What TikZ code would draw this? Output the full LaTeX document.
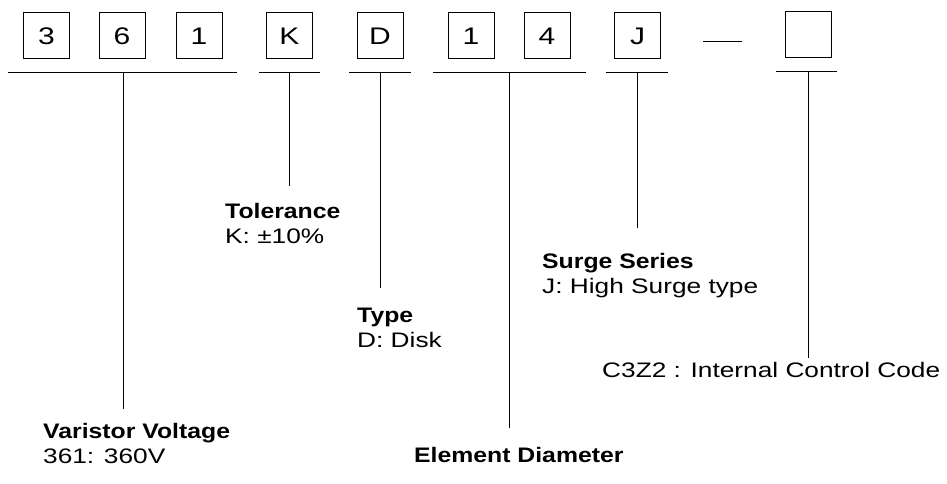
\documentclass[tikz,border=0pt]{standalone}
\usepackage{fontspec}
\setmainfont[FakeStretch=1.25]{Liberation Sans}
\newfontfamily\boldlbl[FakeStretch=1.18]{Liberation Sans}
\begin{document}
\begin{tikzpicture}[x=1pt,y=-1pt,
  codebox/.style={draw,line width=1pt,minimum width=46pt,minimum height=46pt,inner sep=0pt,font=\fontsize{24}{24}\selectfont},
  rule/.style={line width=1pt},
  lbl/.style={anchor=base west,inner sep=0pt,font=\fontsize{21}{25}\selectfont},
  lblb/.style={lbl,font=\fontsize{21}{25}\boldlbl\bfseries}]
\useasboundingbox (0,0) rectangle (947,484);
% code boxes
\node[codebox] (b3) at (46.5,36) {3};
\node[codebox] (b6) at (122,36) {6};
\node[codebox] (b1) at (199,36) {1};
\node[codebox] (bK) at (289.5,36) {K};
\node[codebox] (bD) at (380,36) {D};
\node[codebox] (b1b) at (471,36) {1};
\node[codebox] (b4) at (547,36) {4};
\node[codebox] (bJ) at (637.5,36) {J};
\node[codebox] (bX) at (808,35) {};
\coordinate (dashL) at (703,42);
\coordinate (dashR) at (742,42);
\draw[rule] (dashL) -- (dashR);
% underlines
\coordinate (u1L) at (8,73);   \coordinate (u1R) at (237,73);
\coordinate (u2L) at (259,73); \coordinate (u2R) at (320,73);
\coordinate (u3L) at (349,73); \coordinate (u3R) at (411,73);
\coordinate (u4L) at (433,73); \coordinate (u4R) at (586,73);
\coordinate (u5L) at (606,73); \coordinate (u5R) at (668,73);
\coordinate (u6L) at (776,72); \coordinate (u6R) at (837,72);
\draw[rule] (u1L) -- (u1R);
\draw[rule] (u2L) -- (u2R);
\draw[rule] (u3L) -- (u3R);
\draw[rule] (u4L) -- (u4R);
\draw[rule] (u5L) -- (u5R);
\draw[rule] (u6L) -- (u6R);
% stems
\coordinate (s1a) at (123,73); \coordinate (s1b) at (123,409);
\coordinate (s2a) at (289,73); \coordinate (s2b) at (289,186);
\coordinate (s3a) at (380,73); \coordinate (s3b) at (380,288);
\coordinate (s4a) at (509,73); \coordinate (s4b) at (509,428);
\coordinate (s5a) at (637,73); \coordinate (s5b) at (637,228);
\coordinate (s6a) at (808,72); \coordinate (s6b) at (808,358);
\draw[rule] (s1a) -- (s1b);
\draw[rule] (s2a) -- (s2b);
\draw[rule] (s3a) -- (s3b);
\draw[rule] (s4a) -- (s4b);
\draw[rule] (s5a) -- (s5b);
\draw[rule] (s6a) -- (s6b);
% labels
\node[lblb] (tolT) at (225,218) {Tolerance};
\node[lbl]  (tolV) at (225,243) {K: ±10\%};
\node[lblb] (typT) at (357,322) {Type};
\node[lbl]  (typV) at (357,347) {D: Disk};
\node[lblb] (surT) at (542,268) {Surge Series};
\node[lbl]  (surV) at (542,293) {J: High Surge type};
\node[lbl]  (ctl)  at (602,377) {C3Z2 : Internal Control Code};
\node[lblb] (varT) at (43,438) {Varistor Voltage};
\node[lbl]  (varV) at (43,463) {361: 360V};
\node[lblb] (ele)  at (414,462) {Element Diameter};
\end{tikzpicture}
\end{document}
